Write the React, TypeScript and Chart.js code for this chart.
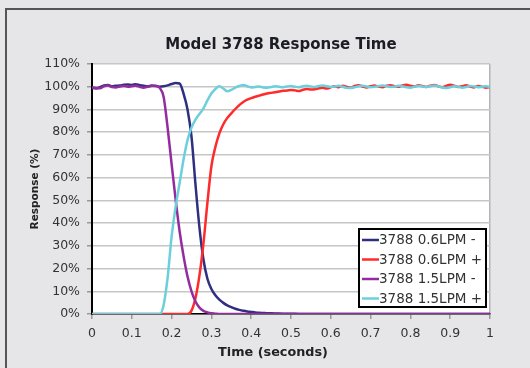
import React, { useEffect, useRef } from 'react';
import { Chart, registerables } from 'chart.js';

Chart.register(...registerables);

const CHART_TITLE = 'Model 3788 Response Time';
const X_TITLE = 'Time (seconds)';
const Y_TITLE = 'Response (%)';

const SERIES_LABELS = ['3788 0.6LPM -', '3788 0.6LPM +', '3788 1.5LPM -', '3788 1.5LPM +'];
const SERIES_COLORS = ['#2f2f80', '#ff2a2a', '#932c9e', '#6dcfdc'];

const TIME = [
  0, 0.01, 0.02, 0.03, 0.04, 0.05, 0.06, 0.07, 0.08, 0.09,
  0.1, 0.11, 0.12, 0.13, 0.14, 0.15, 0.16, 0.17, 0.18, 0.19,
  0.2, 0.21, 0.22, 0.23, 0.24, 0.25, 0.26, 0.27, 0.28, 0.29,
  0.3, 0.31, 0.32, 0.33, 0.34, 0.35, 0.36, 0.37, 0.38, 0.39,
  0.4, 0.41, 0.42, 0.43, 0.44, 0.45, 0.46, 0.47, 0.48, 0.49,
  0.5, 0.51, 0.52, 0.53, 0.54, 0.55, 0.56, 0.57, 0.58, 0.59,
  0.6, 0.61, 0.62, 0.63, 0.64, 0.65, 0.66, 0.67, 0.68, 0.69,
  0.7, 0.71, 0.72, 0.73, 0.74, 0.75, 0.76, 0.77, 0.78, 0.79,
  0.8, 0.81, 0.82, 0.83, 0.84, 0.85, 0.86, 0.87, 0.88, 0.89,
  0.9, 0.91, 0.92, 0.93, 0.94, 0.95, 0.96, 0.97, 0.98, 0.99,
  1.0,
];

const LPM06_MINUS = [
  99.5, 99.2, 99.8, 100.6, 100.8, 100.2, 100.4, 100.5, 100.9, 101.0,
  100.8, 101.1, 100.7, 100.4, 100.2, 100.5, 100.3, 100.0, 100.2, 100.6,
  101.2, 101.6, 101.4, 97.0, 90.0, 78.0, 57.0, 38.0, 24.0, 15.5,
  11.0, 8.2, 6.3, 4.9, 3.8, 3.0, 2.3, 1.8, 1.4, 1.1,
  0.9, 0.7, 0.55, 0.45, 0.35, 0.28, 0.22, 0.17, 0.13, 0.1,
  0.08, 0.06, 0.05, 0.04, 0.03, 0.02, 0.02, 0.01, 0.01, 0,
  0, 0, 0, 0, 0, 0, 0, 0, 0, 0,
  0, 0, 0, 0, 0, 0, 0, 0, 0, 0,
  0, 0, 0, 0, 0, 0, 0, 0, 0, 0,
  0, 0, 0, 0, 0, 0, 0, 0, 0, 0,
  0,
];

const LPM06_PLUS = [
  0, 0, 0, 0, 0, 0, 0, 0, 0, 0,
  0, 0, 0, 0, 0, 0, 0, 0, 0, 0,
  0, 0, 0, 0, 0, 1.5, 7.0, 17.0, 31.0, 49.0,
  65.0, 73.5, 79.5, 83.5, 86.3, 88.3, 90.2, 91.9, 93.3, 94.3,
  95.0, 95.6, 96.1, 96.6, 97.0, 97.3, 97.6, 97.9, 98.2, 98.3,
  98.6, 98.4, 98.1, 98.7, 99.0, 98.8, 98.9, 99.3, 99.5, 99.2,
  99.8, 100.2, 99.8, 100.4, 100.0, 99.6, 100.3, 100.6, 100.1, 99.7,
  100.2, 100.5, 100.1, 99.8, 100.4, 100.7, 100.2, 100.0, 100.6, 100.9,
  100.4, 100.1, 100.7, 100.3, 99.9, 100.5, 100.8, 100.2, 99.8, 100.4,
  100.9, 100.5, 99.9, 100.2, 100.6, 100.1, 99.7, 100.3, 100.0, 99.6,
  99.9,
];

const LPM15_MINUS = [
  99.8, 99.5, 99.3, 100.2, 100.5, 99.9, 99.7, 100.1, 100.3, 100.0,
  100.2, 100.4, 99.9, 99.6, 100.0, 100.3, 100.4, 99.5, 95.5, 82.0,
  66.0, 50.5, 36.5, 25.5, 16.5, 10.0, 5.5, 2.8, 1.4, 0.7,
  0.3, 0.15, 0, 0, 0, 0, 0, 0, 0, 0,
  0, 0, 0, 0, 0, 0, 0, 0, 0, 0,
  0, 0, 0, 0, 0, 0, 0, 0, 0, 0,
  0, 0, 0, 0, 0, 0, 0, 0, 0, 0,
  0, 0, 0, 0, 0, 0, 0, 0, 0, 0,
  0, 0, 0, 0, 0, 0, 0, 0, 0, 0,
  0, 0, 0, 0, 0, 0, 0, 0, 0, 0,
  0,
];

const LPM15_PLUS = [
  0, 0, 0, 0, 0, 0, 0, 0, 0, 0,
  0, 0, 0, 0, 0, 0, 0, 0, 4.0, 16.0,
  34.0, 47.0, 57.5, 68.0, 76.5, 82.0, 85.5, 88.0, 90.5, 94.0,
  97.0, 99.0, 100.2, 99.2, 98.0, 98.6, 99.6, 100.3, 100.8, 100.2,
  99.7, 99.9, 100.1, 99.7, 99.6, 99.9, 100.2, 100.0, 99.8, 100.1,
  100.3, 100.0, 99.8, 100.2, 100.4, 100.1, 99.9, 100.3, 100.5, 100.2,
  99.9, 100.1, 100.4, 100.0, 99.5, 99.4, 99.8, 100.2, 100.4, 100.1,
  99.8, 100.0, 100.3, 100.5, 100.2, 99.9, 100.1, 100.4, 100.2, 99.8,
  99.6, 100.0, 100.3, 100.1, 99.9, 100.2, 100.5, 100.2, 99.7, 99.4,
  99.8, 100.2, 100.0, 99.6, 99.9, 100.3, 100.1, 99.8, 100.0, 100.2,
  99.9,
];

const SERIES_VALUES = [LPM06_MINUS, LPM06_PLUS, LPM15_MINUS, LPM15_PLUS];

const FONT = 'DejaVu Sans';

const decorPlugin = {
  id: 'decor',
  beforeDraw(chart: any) {
    const { ctx, chartArea } = chart;
    ctx.save();
    ctx.fillStyle = '#ffffff';
    ctx.fillRect(chartArea.left, chartArea.top, chartArea.right - chartArea.left, chartArea.bottom - chartArea.top);
    ctx.restore();
  },
  afterDraw(chart: any) {
    const { ctx } = chart;
    ctx.save();
    // chart title
    ctx.fillStyle = '#1c1c24';
    ctx.font = `bold 15px "${FONT}"`;
    ctx.textAlign = 'center';
    ctx.textBaseline = 'middle';
    ctx.fillText(CHART_TITLE, 281, 45);
    // x axis title
    ctx.font = `bold 12.8px "${FONT}"`;
    ctx.fillStyle = '#222';
    ctx.fillText(X_TITLE, 273, 353);

    // legend
    const bx = 359, by = 229, bw = 127, bh = 78;
    ctx.fillStyle = '#ffffff';
    ctx.fillRect(bx, by, bw, bh);
    ctx.strokeStyle = '#000000';
    ctx.lineWidth = 2;
    ctx.strokeRect(bx, by, bw, bh);
    const rows = [240, 259.5, 279, 298.5];
    ctx.font = `13.5px "${FONT}"`;
    ctx.textAlign = 'left';
    ctx.textBaseline = 'middle';
    chart.data.datasets.forEach((ds: any, i: number) => {
      const y = rows[i];
      ctx.strokeStyle = ds.borderColor;
      ctx.lineWidth = 2.5;
      ctx.beginPath();
      ctx.moveTo(362, y);
      ctx.lineTo(379, y);
      ctx.stroke();
      ctx.fillStyle = '#333';
      ctx.fillText(ds.label, 379, y + 0.5);
    });
    ctx.restore();
  },
};

export default function App() {
  const canvasRef = useRef<HTMLCanvasElement | null>(null);

  useEffect(() => {
    if (!canvasRef.current) return;
    const datasets = SERIES_LABELS.map((label, i) => ({
      label,
      data: TIME.map((t, j) => ({ x: t, y: SERIES_VALUES[i][j] })),
      borderColor: SERIES_COLORS[i],
      backgroundColor: SERIES_COLORS[i],
      borderWidth: 2.5,
      pointRadius: 0,
      fill: false,
      cubicInterpolationMode: 'monotone' as const,
      order: 4 - i,
    }));

    const chart = new Chart(canvasRef.current, {
      type: 'line',
      data: { datasets },
      options: {
        animation: false,
        responsive: false,
        maintainAspectRatio: false,
        layout: { padding: { left: 0, top: 64, right: 40, bottom: 0 } },
        plugins: {
          legend: { display: false },
          title: { display: false },
          tooltip: { enabled: false },
        },
        scales: {
          x: {
            type: 'linear',
            min: 0,
            max: 1,
            ticks: {
              stepSize: 0.1,
              color: '#333',
              font: { family: FONT, size: 12.5 },
              padding: 7,
              maxRotation: 0,
              callback: (v: any) => String(Number(Number(v).toFixed(1))),
            },
            grid: {
              color: (c: any) => (c.tick && Math.abs(c.tick.value - 1) < 1e-9 ? '#b4b4b4' : 'rgba(0,0,0,0)'),
              tickColor: '#9a9a9a',
              tickLength: 5,
              lineWidth: 1.5,
            },
            border: { color: '#000', width: 1.5 },
            afterFit: (s: any) => {
              s.height = 54;
            },
          },
          y: {
            min: 0,
            max: 110,
            ticks: {
              stepSize: 10,
              color: '#333',
              font: { family: FONT, size: 12.5 },
              padding: 7,
              callback: (v: any) => `${v}%`,
            },
            grid: {
              color: '#c6c6c6',
              lineWidth: 1.5,
              tickColor: '#9a9a9a',
              tickLength: 5,
            },
            border: { color: '#000', width: 2 },
            title: {
              display: true,
              text: Y_TITLE,
              color: '#222',
              font: { family: FONT, size: 10.5, weight: 'bold' },
              padding: { top: 28.7, bottom: 0 },
            },
            afterFit: (s: any) => {
              s.width = 92;
            },
          },
        },
      },
      plugins: [decorPlugin],
    });
    return () => chart.destroy();
  }, []);

  return (
    <div
      style={{
        position: 'absolute',
        left: 0,
        top: 0,
        width: 530,
        height: 368,
        overflow: 'hidden',
        background: '#e6e6e8',
      }}
    >
      <div
        style={{
          position: 'absolute',
          left: 5,
          top: 8,
          width: 600,
          height: 400,
          borderLeft: '2px solid #555',
          borderTop: '2px solid #555',
        }}
      />
      <canvas
        ref={canvasRef}
        width={530}
        height={368}
        style={{ position: 'absolute', left: 0, top: 0, width: 530, height: 368, display: 'block' }}
      />
    </div>
  );
}
